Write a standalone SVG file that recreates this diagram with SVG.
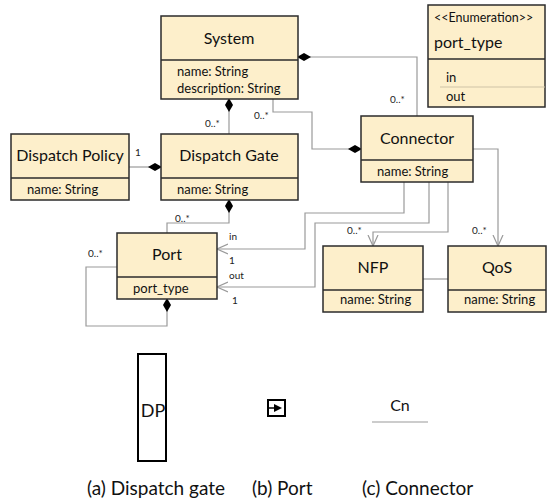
<svg xmlns="http://www.w3.org/2000/svg" width="547" height="503" viewBox="0 0 547 503">
  <defs>
    <style>
      .box { fill: #fdefcb; stroke: #2b2b2b; stroke-width: 1.5; }
      .sep { stroke: #2b2b2b; stroke-width: 1.5; }
      .title { font-family: Lato, "Liberation Sans", sans-serif; font-size: 16px; fill: #111; text-anchor: middle; }
      .attr { font-family: Lato, "Liberation Sans", sans-serif; font-size: 13px; fill: #111; }
      .mult { font-family: Lato, "Liberation Sans", sans-serif; font-size: 10px; fill: #222; }
      .edge { fill: none; stroke: #9a9a9a; stroke-width: 1.2; }
      .cap { font-family: Lato, "Liberation Sans", sans-serif; font-size: 19px; fill: #111; }
    </style>
    <marker id="diamond" viewBox="0 0 14 8" refX="13" refY="4" markerWidth="14" markerHeight="8" markerUnits="userSpaceOnUse" orient="auto">
      <path d="M0,4 L7,0 L14,4 L7,8 Z" fill="#000"/>
    </marker>
    <marker id="open" viewBox="0 0 12 12" refX="11" refY="6" markerWidth="12" markerHeight="12" markerUnits="userSpaceOnUse" orient="auto">
      <path d="M0,1 L11,6 L0,11" fill="none" stroke="#9a9a9a" stroke-width="1.2"/>
    </marker>
  </defs>

  <!-- connectors -->
  <g id="connectors">
    <path class="edge" d="M417,116 V57 H298" marker-end="url(#diamond)"/>
    <path class="edge" d="M229,134 V99" marker-end="url(#diamond)"/>
    <path class="edge" d="M273,99 V112 H312 V149 H361" marker-end="url(#diamond)"/>
    <path class="edge" d="M129,167 H161" marker-end="url(#diamond)"/>
    <path class="edge" d="M167,233 V223 H229 V200" marker-end="url(#diamond)"/>
    <path class="edge" d="M117,267 H86 V326 H167 V299" marker-end="url(#diamond)"/>
    <path class="edge" d="M404,182 V213 H305 V249 H217" marker-end="url(#open)"/>
    <path class="edge" d="M429,182 V223 H315 V287 H217" marker-end="url(#open)"/>
    <path class="edge" d="M448,182 V232 H373 V246" marker-end="url(#open)"/>
    <path class="edge" d="M473,149 H498 V246" marker-end="url(#open)"/>
    <path class="edge" d="M423,279 H448"/>
    <text class="mult" x="390" y="103">0..*</text>
    <text class="mult" x="205" y="127">0..*</text>
    <text class="mult" x="254" y="119">0..*</text>
    <text class="mult" x="135" y="156">1</text>
    <text class="mult" x="175" y="222">0..*</text>
    <text class="mult" x="88" y="257">0..*</text>
    <text class="mult" x="229" y="240">in</text>
    <text class="mult" x="229" y="264">1</text>
    <text class="mult" x="229" y="279">out</text>
    <text class="mult" x="232" y="304">1</text>
    <text class="mult" x="347" y="234">0..*</text>
    <text class="mult" x="472" y="234">0..*</text>
  </g>

  <g id="system">
    <rect class="box" x="161" y="16" width="137" height="83"/>
    <line class="sep" x1="161" y1="60" x2="298" y2="60"/>
    <text class="title" x="229" y="44">System</text>
    <text class="attr" x="177" y="76">name: String</text>
    <text class="attr" x="177" y="93">description: String</text>
  </g>

  <g id="enumeration">
    <rect class="box" x="428" y="5" width="117" height="102"/>
    <line class="sep" x1="428" y1="59" x2="545" y2="59"/>
    <line x1="440" y1="87" x2="545" y2="87" stroke="#cfc3a6" stroke-width="1"/>
    <text class="attr" x="434" y="22" style="font-size:12.5px">&lt;&lt;Enumeration&gt;&gt;</text>
    <text class="attr" x="434" y="48" style="font-size:16px">port_type</text>
    <text class="attr" x="446" y="82">in</text>
    <text class="attr" x="446" y="101">out</text>
  </g>

  <g id="dispatch-policy">
    <rect class="box" x="11" y="134" width="118" height="66"/>
    <line class="sep" x1="11" y1="178" x2="129" y2="178"/>
    <text class="title" x="70" y="161">Dispatch Policy</text>
    <text class="attr" x="27" y="194">name: String</text>
  </g>

  <g id="dispatch-gate">
    <rect class="box" x="161" y="134" width="137" height="66"/>
    <line class="sep" x1="161" y1="178" x2="298" y2="178"/>
    <text class="title" x="229" y="161">Dispatch Gate</text>
    <text class="attr" x="177" y="194">name: String</text>
  </g>

  <g id="connector">
    <rect class="box" x="361" y="116" width="112" height="66"/>
    <line class="sep" x1="361" y1="160" x2="473" y2="160"/>
    <text class="title" x="417" y="144">Connector</text>
    <text class="attr" x="377" y="176">name: String</text>
  </g>

  <g id="port">
    <rect class="box" x="117" y="233" width="100" height="66"/>
    <line class="sep" x1="117" y1="277" x2="217" y2="277"/>
    <text class="title" x="167" y="260">Port</text>
    <text class="attr" x="133" y="293">port_type</text>
  </g>

  <g id="nfp">
    <rect class="box" x="323" y="246" width="100" height="66"/>
    <line class="sep" x1="323" y1="290" x2="423" y2="290"/>
    <text class="title" x="373" y="273">NFP</text>
    <text class="attr" x="340" y="304">name: String</text>
  </g>

  <g id="qos">
    <rect class="box" x="448" y="246" width="98" height="66"/>
    <line class="sep" x1="448" y1="290" x2="546" y2="290"/>
    <text class="title" x="497" y="273">QoS</text>
    <text class="attr" x="464" y="304">name: String</text>
  </g>

  <!-- notation legend -->
  <g id="legend-dispatch-gate">
    <rect x="138" y="354" width="28" height="107" fill="#fff" stroke="#000" stroke-width="2"/>
    <text class="cap" x="153" y="417" text-anchor="middle" style="font-size:18px">DP</text>
  </g>
  <g id="legend-port">
    <rect x="268" y="400" width="17" height="16" fill="#fff" stroke="#000" stroke-width="2"/>
    <line x1="269" y1="408" x2="275" y2="408" stroke="#000" stroke-width="1.5"/>
    <path d="M274,404 L282,408 L274,412 Z" fill="#000"/>
  </g>
  <g id="legend-connector">
    <text class="title" x="400" y="411">Cn</text>
    <line x1="372" y1="422" x2="428" y2="422" stroke="#9a9a9a" stroke-width="1.2"/>
  </g>
  <text class="cap" x="87" y="495">(a) Dispatch gate</text>
  <text class="cap" x="252" y="495">(b) Port</text>
  <text class="cap" x="362" y="495">(c) Connector</text>
</svg>
